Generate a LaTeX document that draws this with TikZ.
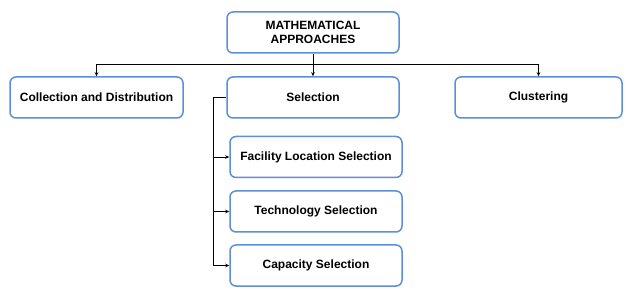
\documentclass[tikz,border=0pt]{standalone}
\usepackage{fontspec}
\setmainfont{Liberation Sans}
\usetikzlibrary{arrows.meta}
\definecolor{boxblue}{HTML}{5B8FD6}
\tikzset{
  box/.style={draw=boxblue, line width=1.5pt, rounded corners=6pt, fill=white,
    minimum width=172pt, minimum height=41pt, align=center, inner sep=2pt,
    font=\fontsize{12}{14}\selectfont\bfseries},
  conn/.style={draw=black, line width=0.8pt, -{Stealth[length=4pt,width=3.5pt]}},
}
\begin{document}
\begin{tikzpicture}[x=1pt,y=-1pt]
\useasboundingbox (0,0) rectangle (640,299);
\node[box] (top) at (313,32.5) {MATHEMATICAL\\APPROACHES};
\node[box, minimum width=173pt] (col) at (96.5,97.5) {Collection and Distribution};
\node[box] (sel) at (313,97.5) {Selection};
\node[box, minimum width=167pt] (clu) at (538.5,97.5) {Clustering};
\node[box] (fac) at (316,157) {Facility Location Selection};
\node[box] (tec) at (316,211.5) {Technology Selection};
\node[box] (cap) at (316,265.5) {Capacity Selection};
\coordinate (hy) at (0,64);
\coordinate (bx) at (213,0);
\draw[conn] (top.south) -- (sel.north);
\draw[conn] (top.south |- hy) -| (col.north);
\draw[conn] (top.south |- hy) -| (clu.north);
\draw[line width=0.8pt] (sel.west) -- (sel.west -| bx) -- (bx |- cap.west);
\draw[conn] (bx |- fac.west) -- (fac.west);
\draw[conn] (bx |- tec.west) -- (tec.west);
\draw[conn] (bx |- cap.west) -- (cap.west);
\end{tikzpicture}
\end{document}
